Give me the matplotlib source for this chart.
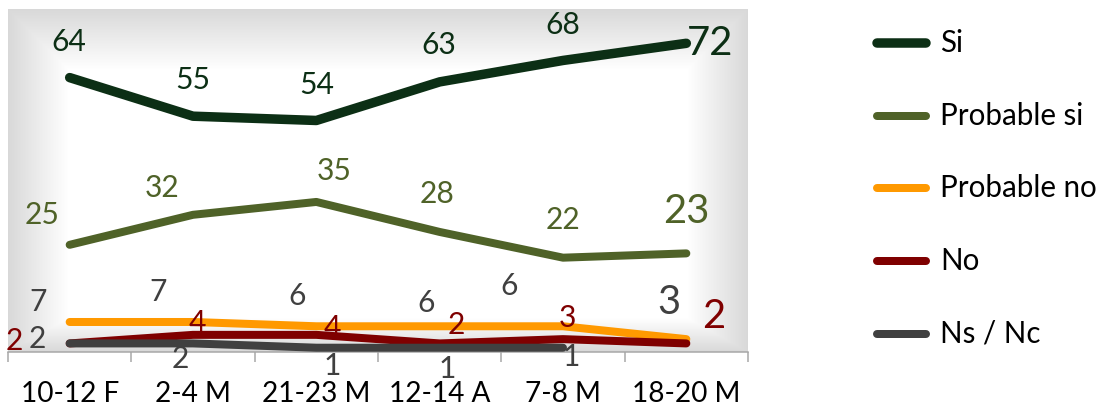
import numpy as np
import matplotlib
matplotlib.use("Agg")
import matplotlib.pyplot as plt
from matplotlib.lines import Line2D

plt.rcParams['font.family'] = ['Lato', 'DejaVu Sans']

# ─── 데이터 ─────────────────────────────────────────
periods = ["10-12 F", "2-4 M", "21-23 M", "12-14 A", "7-8 M", "18-20 M"]
series_names = ["Si", "Probable si", "Probable no", "No", "Ns / Nc"]
si = [64, 55, 54, 63, 68, 72]
probable_si = [25, 32, 35, 28, 22, 23]
probable_no = [7, 7, 6, 6, 6, 3]
no = [2, 4, 4, 2, 3, 2]
ns_nc = [2, 2, 1, 1, 1, np.nan]

# ─── 스타일 ─────────────────────────────────────────
LINE_COLORS = ["#0c2f15", "#4f6228", "#ff9900", "#7f0000", "#404040"]
LABEL_COLORS = ["#0c2f15", "#4f6228", "#404040", "#7f0000", "#404040"]
LINE_WIDTHS = [9.5, 8, 8, 8, 8]

# label offsets in px (dpi 72 -> points == pixels), dy up
LABEL_OFFSETS = [
    [(-1, 36), (0, 36), (0, 35), (-1, 37), (0, 35), (24, 0)],
    [(-28, 30), (-31, 27), (18, 31), (-3, 38), (0, 38), (0, 42)],
    [(-32, 20), (-35, 30), (-19, 30), (-14, 23), (-54, 40), (-17, 37)],
    [(-55, 2), (4, 12), (16, 7), (17, 18), (4, 21), (27, 27)],
    [(-32, 4), (-13, -16), (16, -18), (8, -21), (8, -9), (0, 0)],
]

W, H = 1101, 407
fig = plt.figure(figsize=(W / 72, H / 72), dpi=72)
fig.patch.set_facecolor('white')
ax = fig.add_axes([8 / W, 1 - 352 / H, 740 / W, 343 / H])
ax.set_xlim(-0.5, len(periods) - 0.5)
ax.set_ylim(0, 80)

# 배경 그라데이션 (가장자리 회색 → 안쪽 흰색)
gh, gw = 343, 740
yy, xx = np.mgrid[0:gh, 0:gw]
dist = np.minimum.reduce([xx, gw - 1 - xx, yy, (gh - 1 - yy) * 1.8])
t = np.clip(dist / 60.0, 0, 1)
shade = 0.85 + 0.15 * t
ax.imshow(np.dstack([shade, shade, shade]), extent=(0, 1, 0, 1),
          transform=ax.transAxes, aspect='auto', zorder=0, interpolation='bilinear')

all_series = [si, probable_si, probable_no, no, ns_nc]
x = np.arange(len(periods))
for k, vals in enumerate(all_series):
    ax.plot(x, vals, color=LINE_COLORS[k], lw=LINE_WIDTHS[k],
            solid_capstyle='round', solid_joinstyle='round', zorder=3 + k)
    for i, v in enumerate(vals):
        if np.isnan(v):
            continue
        big = i == len(vals) - 1   # 마지막 조사값은 크게
        ax.annotate(f"{v:g}", (x[i], v), xytext=LABEL_OFFSETS[k][i],
                    textcoords='offset points', ha='center', va='center',
                    fontsize=40 if big else 30, color=LABEL_COLORS[k], zorder=20)

# 축
for side in ['top', 'left', 'right']:
    ax.spines[side].set_visible(False)
ax.spines['bottom'].set_color('#a6a6a6')
ax.spines['bottom'].set_linewidth(1.5)
ax.set_yticks([])
ax.set_xticks(np.arange(len(periods) + 1) - 0.5)
ax.set_xticklabels([])
ax.tick_params(axis='x', which='major', length=10, width=1.5, color='#a6a6a6')
ax.set_xticks(x, minor=True)
ax.set_xticklabels(periods, minor=True)
ax.tick_params(axis='x', which='minor', length=0, pad=29, labelsize=28, labelcolor='black')

# 범례 (수동 배치)
legend_rows = [43, 116, 188, 261, 334]
for k, name in enumerate(series_names):
    yf = 1 - legend_rows[k] / H
    fig.add_artist(Line2D([877 / W, 926 / W], [yf, yf], color=LINE_COLORS[k],
                          lw=LINE_WIDTHS[k], solid_capstyle='round'))
    fig.text(940 / W, yf, name, fontsize=29.5, va='center', ha='left', color='black')

fig.savefig("out.png", dpi=72, facecolor='white')
